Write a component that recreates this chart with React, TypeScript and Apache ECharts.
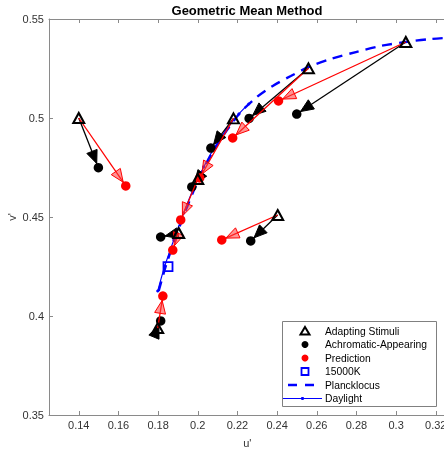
import React, { useEffect, useRef } from 'react';
import * as echarts from 'echarts';

// Tick labels
const uTicks = [0.14, 0.16, 0.18, 0.2, 0.22, 0.24, 0.26, 0.28, 0.3, 0.32];

// Adapting stimuli (triangles)
const stimU = [0.1400, 0.3049, 0.2558, 0.2180, 0.2403, 0.2000, 0.1904, 0.1798];
const stimV = [0.5000, 0.5384, 0.5251, 0.4998, 0.4510, 0.4692, 0.4419, 0.3939];
// Achromatic-appearing points (black)
const achU = [0.1499, 0.2499, 0.2259, 0.2066, 0.2267, 0.1970, 0.1813, 0.1813];
const achV = [0.4749, 0.5020, 0.4998, 0.4848, 0.4379, 0.4652, 0.4399, 0.3975];
// Predictions (red)
const predU = [0.1637, 0.2407, 0.2176, 0.2010, 0.2121, 0.1914, 0.1874, 0.1824];
const predV = [0.4657, 0.5086, 0.4899, 0.4697, 0.4384, 0.4485, 0.4333, 0.4101];
// 15000K
const k15000U = [0.1850];
const k15000V = [0.4249];
// Planckian locus
const planckU = [0.1803, 0.1839, 0.1884, 0.1934, 0.1985, 0.2035, 0.2091, 0.2151, 0.2217, 0.2298, 0.2378, 0.2469, 0.2560, 0.2671, 0.2797, 0.2923, 0.3049, 0.3175, 0.3301];
const planckV = [0.4126, 0.4253, 0.4384, 0.4520, 0.4646, 0.4753, 0.4854, 0.4944, 0.5030, 0.5106, 0.5162, 0.5212, 0.5258, 0.5298, 0.5333, 0.5364, 0.5384, 0.5399, 0.5407];
// Daylight locus
const dayU = [0.1798, 0.1834, 0.1879, 0.1929, 0.1980, 0.2030, 0.2086, 0.2146, 0.2207, 0.2257];
const dayV = [0.4126, 0.4253, 0.4384, 0.4520, 0.4646, 0.4753, 0.4854, 0.4944, 0.5020, 0.5071];

const legendNames = ['Adapting Stimuli', 'Achromatic-Appearing', 'Prediction', '15000K', 'Plancklocus', 'Daylight'];

const FONT = '"Liberation Sans", Arial, Helvetica, sans-serif';

function arrowRenderer(stroke: string, fill: string, headStroke: string) {
  return (params: any, api: any) => {
    const a = api.coord([api.value(0), api.value(1)]);
    const b = api.coord([api.value(2), api.value(3)]);
    const dx = b[0] - a[0];
    const dy = b[1] - a[1];
    const len = Math.hypot(dx, dy) || 1;
    const ux = dx / len;
    const uy = dy / len;
    const tipOff = 4.5;
    const hl = 13;
    const hw = 5.5;
    const tip = [b[0] - ux * tipOff, b[1] - uy * tipOff];
    const base = [tip[0] - ux * hl, tip[1] - uy * hl];
    const px = -uy;
    const py = ux;
    return {
      type: 'group',
      children: [
        {
          type: 'line',
          shape: { x1: a[0], y1: a[1], x2: b[0], y2: b[1] },
          style: { stroke, lineWidth: 1.3 },
        },
        {
          type: 'polygon',
          shape: {
            points: [
              tip,
              [base[0] + px * hw, base[1] + py * hw],
              [base[0] - px * hw, base[1] - py * hw],
            ],
          },
          style: { fill, stroke: headStroke, lineWidth: 1 },
        },
      ],
    };
  };
}

export default function App() {
  const ref = useRef<HTMLDivElement>(null);
  useEffect(() => {
    const chart = echarts.init(ref.current!, null, { renderer: 'svg' });
    const axisColor = '#8a8a8a';
    const labelColor = '#333';
    const fmt = (v: number) => String(+Number(v).toFixed(2));

    const rowY = [331, 344.5, 358, 371.5, 385, 398.5];
    const symX = 305;
    const textX = 325;
    const legendGraphics: any[] = [
      {
        type: 'rect',
        z: 100,
        shape: { x: 282.5, y: 321.5, width: 154, height: 85 },
        style: { fill: '#fff', stroke: '#808080', lineWidth: 1 },
      },
      {
        type: 'polygon',
        z: 101,
        shape: { points: [[symX, rowY[0] - 4], [symX + 4.5, rowY[0] + 3.5], [symX - 4.5, rowY[0] + 3.5]] },
        style: { fill: 'none', stroke: '#000', lineWidth: 2 },
      },
      { type: 'circle', z: 101, shape: { cx: symX, cy: rowY[1], r: 3.5 }, style: { fill: '#000' } },
      { type: 'circle', z: 101, shape: { cx: symX, cy: rowY[2], r: 3.5 }, style: { fill: '#ff0000' } },
      {
        type: 'rect',
        z: 101,
        shape: { x: symX - 3.5, y: rowY[3] - 3.5, width: 7, height: 7 },
        style: { fill: 'none', stroke: '#0000ff', lineWidth: 1.8 },
      },
      { type: 'line', z: 101, shape: { x1: 288, y1: rowY[4], x2: 297, y2: rowY[4] }, style: { stroke: '#0000ff', lineWidth: 2.5 } },
      { type: 'line', z: 101, shape: { x1: 305, y1: rowY[4], x2: 314, y2: rowY[4] }, style: { stroke: '#0000ff', lineWidth: 2.5 } },
      { type: 'line', z: 101, shape: { x1: 283, y1: rowY[5], x2: 322, y2: rowY[5] }, style: { stroke: '#0000ff', lineWidth: 1 } },
      { type: 'circle', z: 101, shape: { cx: 302.5, cy: rowY[5], r: 1.6 }, style: { fill: '#0000ff' } },
    ];
    legendNames.forEach((name, i) => {
      legendGraphics.push({
        type: 'text',
        z: 101,
        x: textX,
        y: rowY[i],
        style: {
          text: name,
          font: `10.3px ${FONT}`,
          fill: '#000',
          verticalAlign: 'middle',
          textVerticalAlign: 'middle',
        },
      });
    });

    const option: any = {
      animation: false,
      textStyle: { fontFamily: FONT },
      title: {
        text: 'Geometric Mean Method',
        left: 247,
        top: 4,
        padding: 0,
        textAlign: 'center',
        textStyle: { fontSize: 13, fontWeight: 'bold', color: '#000', fontFamily: FONT },
      },
      grid: { left: 49, top: 19, width: 396.7, height: 396, containLabel: false, outerBoundsMode: 'none' },
      xAxis: [
        {
          type: 'value',
          position: 'bottom',
          min: 0.125,
          max: 0.325,
          name: "u'",
          nameLocation: 'middle',
          nameGap: 22,
          nameMoveOverlap: false,
          nameTextStyle: { fontSize: 11, color: labelColor, fontFamily: FONT },
          axisLine: { show: true, onZero: false, lineStyle: { color: axisColor, width: 1 } },
          axisTick: { show: true, inside: true, length: 4, customValues: uTicks, lineStyle: { color: axisColor } },
          axisLabel: { customValues: uTicks, formatter: fmt, margin: 4, fontSize: 11, color: labelColor, fontFamily: FONT },
          splitLine: { show: false },
        },
        {
          type: 'value',
          position: 'top',
          min: 0.125,
          max: 0.325,
          axisLine: { show: true, onZero: false, lineStyle: { color: axisColor, width: 1 } },
          axisTick: { show: true, inside: true, length: 4, customValues: uTicks, lineStyle: { color: axisColor } },
          axisLabel: { show: false },
          splitLine: { show: false },
        },
      ],
      yAxis: [
        {
          type: 'value',
          min: 0.35,
          max: 0.55,
          interval: 0.05,
          name: "v'",
          nameLocation: 'middle',
          nameGap: 32,
          nameMoveOverlap: false,
          nameRotate: 90,
          nameTextStyle: { fontSize: 11, color: labelColor, fontFamily: FONT },
          axisLine: { show: true, onZero: false, lineStyle: { color: axisColor, width: 1 } },
          axisTick: { show: true, inside: true, length: 4, lineStyle: { color: axisColor } },
          axisLabel: { formatter: fmt, margin: 5, fontSize: 11, color: labelColor, fontFamily: FONT },
          splitLine: { show: false },
        },
      ],
      series: [
        {
          name: 'Plancklocus',
          type: 'line',
          z: 1,
          silent: true,
          data: planckU.map((u, i) => [u, planckV[i]]),
          showSymbol: false,
          smooth: 0.3,
          lineStyle: { color: '#0000ff', width: 2.4, type: [10, 7] },
        },
        {
          name: 'Daylight',
          type: 'line',
          z: 1,
          silent: true,
          data: dayU.map((u, i) => [u, dayV[i]]),
          symbol: 'circle',
          symbolSize: 3,
          smooth: 0.3,
          itemStyle: { color: '#0000ff' },
          lineStyle: { color: '#0000ff', width: 1.2 },
        },
        {
          name: 'achArrows',
          type: 'custom',
          z: 2,
          silent: true,
          renderItem: arrowRenderer('#000', '#000', '#000'),
          encode: { x: [0, 2], y: [1, 3] },
          data: stimU.map((u, i) => [u, stimV[i], achU[i], achV[i]]),
        },
        {
          name: 'Achromatic-Appearing',
          type: 'scatter',
          z: 3,
          silent: true,
          symbol: 'circle',
          symbolSize: 9.5,
          itemStyle: { color: '#000', opacity: 1 },
          data: achU.map((u, i) => [u, achV[i]]),
        },
        {
          name: 'predArrows',
          type: 'custom',
          z: 4,
          silent: true,
          renderItem: arrowRenderer('#ff0000', 'rgba(255,60,60,0.55)', '#ff0000'),
          encode: { x: [0, 2], y: [1, 3] },
          data: stimU.map((u, i) => [u, stimV[i], predU[i], predV[i]]),
        },
        {
          name: 'Prediction',
          type: 'scatter',
          z: 5,
          silent: true,
          symbol: 'circle',
          symbolSize: 9.5,
          itemStyle: { color: '#ff0000', opacity: 1 },
          data: predU.map((u, i) => [u, predV[i]]),
        },
        {
          name: 'Adapting Stimuli',
          type: 'scatter',
          z: 6,
          silent: true,
          symbol: 'triangle',
          symbolSize: [11, 10],
          itemStyle: { color: 'rgba(0,0,0,0)', borderColor: '#000', borderWidth: 2, opacity: 1 },
          data: stimU.map((u, i) => [u, stimV[i]]),
        },
        {
          name: '15000K',
          type: 'scatter',
          z: 6,
          silent: true,
          symbol: 'rect',
          symbolSize: 9,
          itemStyle: { color: 'rgba(0,0,0,0)', borderColor: '#0000ff', borderWidth: 1.8, opacity: 1 },
          data: k15000U.map((u, i) => [u, k15000V[i]]),
        },
      ],
      graphic: legendGraphics,
    };
    chart.setOption(option);
    return () => chart.dispose();
  }, []);
  return <div ref={ref} style={{ position: 'fixed', left: 0, top: 0, width: 460, height: 453 }} />;
}
